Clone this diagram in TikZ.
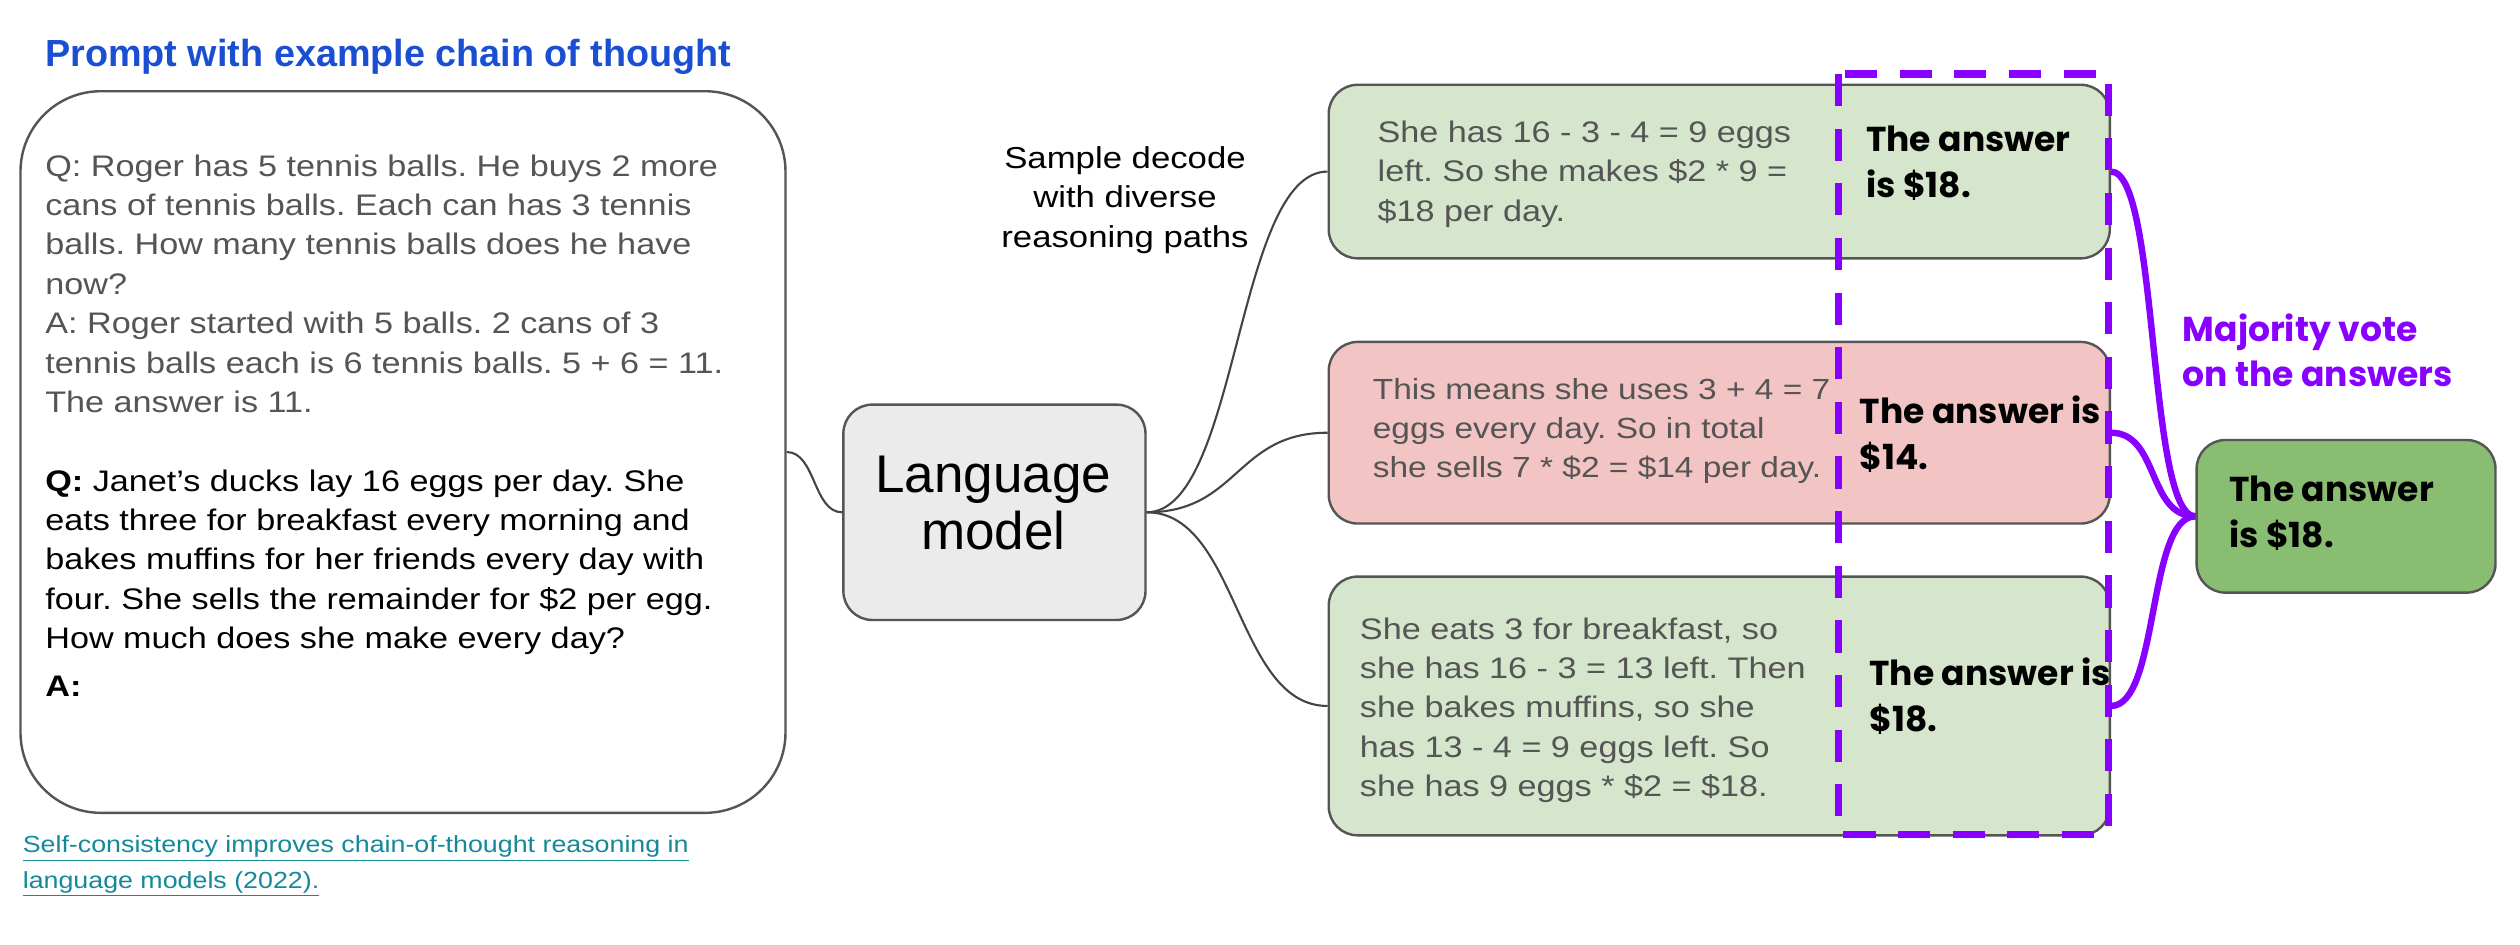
\documentclass[tikz,border=0pt]{standalone}
\usepackage{fontspec}
\setmainfont{Liberation Sans}[FakeStretch=1.15]
\newfontfamily\plainfont{Liberation Sans}
\newfontfamily\popfont{Poppins}
\definecolor{titleblue}{HTML}{1A4FD4}
\definecolor{txtgray}{HTML}{555555}
\definecolor{boxline}{HTML}{555555}
\definecolor{greenfill}{HTML}{D5E6CD}
\definecolor{redfill}{HTML}{F2C4C4}
\definecolor{finfill}{HTML}{88BD72}
\definecolor{lmfill}{HTML}{EBEBEB}
\definecolor{purp}{HTML}{8800FF}
\definecolor{linkteal}{HTML}{14899A}
\definecolor{connline}{HTML}{444444}
\frenchspacing
\begin{document}
\begin{tikzpicture}[x=1pt,y=-1pt,
  box/.style={draw=boxline, line width=1.5pt, rounded corners=18pt, anchor=north west, inner sep=0pt},
  txt/.style={anchor=north west, inner sep=0pt, align=left, font=\fontsize{18.5}{24.5}\selectfont, text=txtgray},
  ans/.style={anchor=north west, inner sep=0pt, align=left, font=\popfont\bfseries\fontsize{21.5}{28.7}\selectfont, text=black},
  conn/.style={draw=connline, line width=1.3pt},
  vote/.style={draw=purp, line width=4pt}]
\useasboundingbox[fill=white] (0,0) rectangle (1568,587.4);

% title
\node[anchor=north west, inner sep=0pt, font=\plainfont\bfseries\fontsize{23.5}{28}\selectfont, text=titleblue] (title) at (28,24) {Prompt with example chain of thought};

% left prompt box
\node[box, rounded corners=50pt, minimum width=476pt, minimum height=449pt] (prompt) at (12,56) {};
\node[txt] (ex) at (28,96) {Q: Roger has 5 tennis balls. He buys 2 more\\cans of tennis balls. Each can has 3 tennis\\balls. How many tennis balls does he have\\now?\\A: Roger started with 5 balls. 2 cans of 3\\tennis balls each is 6 tennis balls. 5 + 6 = 11.\\The answer is 11.};
\node[txt, text=black] (q) at (28,292) {\textbf{Q:} Janet’s ducks lay 16 eggs per day. She\\eats three for breakfast every morning and\\bakes muffins for her friends every day with\\four. She sells the remainder for \$2 per egg.\\How much does she make every day?\\[5pt]\textbf{A:}};

% reference
\node[anchor=north west, inner sep=0pt, align=left, font=\fontsize{14.5}{22}\selectfont, text=linkteal] (ref) at (14,520) {\underline{Self-consistency improves chain-of-thought reasoning in}\\\underline{language models (2022).}};

% language model
\node[box, fill=lmfill, minimum width=188pt, minimum height=134pt] (lm) at (524,251) {};
\node[align=center, inner sep=0pt, font=\plainfont\fontsize{33}{35.5}\selectfont] (lmt) at (618,313) {Language\\model};

% sample label
\node[anchor=north, inner sep=0pt, align=center, font=\fontsize{18.8}{24.5}\selectfont] (sample) at (700,91) {Sample decode\\with diverse\\reasoning paths};

% reasoning boxes
\node[box, fill=greenfill, minimum width=486pt, minimum height=108pt] (b1) at (826,52) {};
\node[box, fill=redfill, minimum width=486pt, minimum height=113pt] (b2) at (826,212) {};
\node[box, fill=greenfill, minimum width=486pt, minimum height=161pt] (b3) at (826,358) {};

\node[txt] (t1) at (857,75) {She has 16 - 3 - 4 = 9 eggs\\left. So she makes \$2 * 9 =\\\$18 per day.};
\node[txt, font=\fontsize{18.1}{24.5}\selectfont] (t2) at (854,235) {This means she uses 3 + 4 = 7\\eggs every day. So in total\\she sells 7 * \$2 = \$14 per day.};
\node[txt] (t3) at (846,384) {She eats 3 for breakfast, so\\she has 16 - 3 = 13 left. Then\\she bakes muffins, so she\\has 13 - 4 = 9 eggs left. So\\she has 9 eggs * \$2 = \$18.};

% dashed answer region
\draw[purp, line width=4.5pt, dash pattern=on 20pt off 14pt] (1144,46) rectangle (1312,519);

\node[ans] (a1) at (1161,78) {The answer\\is \$18.};
\node[ans] (a2) at (1157,246) {The answer is\\\$14.};
\node[ans] (a3) at (1163,409) {The answer is\\\$18.};

% final answer
\node[box, fill=finfill, minimum width=186pt, minimum height=95pt] (fin) at (1366,273) {};
\node[ans] (fa) at (1387,296) {The answer\\is \$18.};

\node[anchor=north west, inner sep=0pt, align=left, font=\popfont\bfseries\fontsize{21.5}{28}\selectfont, text=purp] (maj) at (1358,195) {Majority vote\\on the answers};

% connectors
\draw[conn] (prompt.east) .. controls +(18,0) and +(-18,0) .. (lm.west);
\draw[conn] (lm.east) .. controls +(57,0) and +(-57,0) .. (b1.west);
\draw[conn] (lm.east) .. controls +(57,0) and +(-57,0) .. (b2.west);
\draw[conn] (lm.east) .. controls +(57,0) and +(-57,0) .. (b3.west);

\draw[vote] (b1.east) .. controls +(30,0) and +(-30,0) .. (fin.west);
\draw[vote] (b2.east) .. controls +(30,0) and +(-30,0) .. (fin.west);
\draw[vote] (b3.east) .. controls +(30,0) and +(-30,0) .. (fin.west);
\end{tikzpicture}
\end{document}
